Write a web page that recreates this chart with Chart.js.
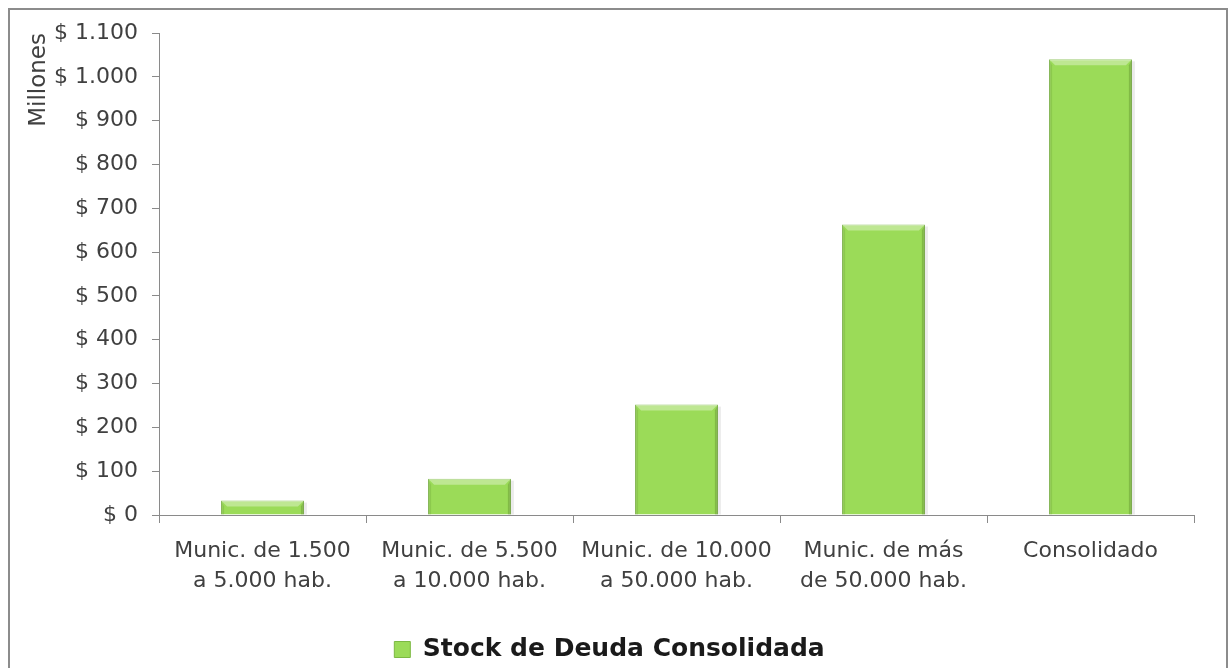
<!DOCTYPE html>
<html>
<head>
<meta charset="utf-8">
<script src="https://cdn.jsdelivr.net/npm/chart.js@4/dist/chart.umd.min.js"></script>
<style>
html,body{margin:0;padding:0;background:#fff;}
#wrap{position:absolute;left:0;top:0;width:1230px;height:668px;}
</style>
</head>
<body>
<div id="wrap"><canvas id="c" width="1230" height="668"></canvas></div>
<script>
const categories = [
  ["Munic. de 1.500", "a 5.000 hab."],
  ["Munic. de 5.500", "a 10.000 hab."],
  ["Munic. de 10.000", "a 50.000 hab."],
  ["Munic. de más", "de 50.000 hab."],
  "Consolidado"
];
const seriesName = "Stock de Deuda Consolidada";
const stockDeuda = [33, 83, 252, 663, 1040];
const yTickMax = 1100;
const yTickStep = 100;
const yAxisTitle = "Millones";

function fmt(v){
  return "$ " + String(v).replace(/\B(?=(\d{3})+(?!\d))/g, ".");
}

const frame = {
  id: 'frame',
  afterDraw(chart){
    const ctx = chart.ctx;
    ctx.save();
    ctx.strokeStyle = '#8c8c8c';
    ctx.lineWidth = 2;
    ctx.strokeRect(9, 9, 1218, 700);
    ctx.restore();
  }
};

const bevel = {
  id: 'bevel',
  afterDatasetsDraw(chart){
    const ctx = chart.ctx;
    const meta = chart.getDatasetMeta(0);
    ctx.save();
    meta.data.forEach(bar => {
      const l = bar.x - bar.width/2, r = bar.x + bar.width/2;
      const t = bar.y, b = bar.base;
      const h = Math.min(6, (b - t)/2);
      ctx.fillStyle = 'rgba(255,255,255,0.35)';
      ctx.beginPath();
      ctx.moveTo(l, t); ctx.lineTo(r, t); ctx.lineTo(r - h, t + h); ctx.lineTo(l + h, t + h); ctx.closePath();
      ctx.fill();
      ctx.fillStyle = 'rgba(60,100,20,0.28)';
      ctx.beginPath();
      ctx.moveTo(r, t); ctx.lineTo(r, b); ctx.lineTo(r - 3, b); ctx.lineTo(r - 3, t + h); ctx.closePath();
      ctx.fill();
      ctx.fillStyle = 'rgba(60,100,20,0.15)';
      ctx.beginPath();
      ctx.moveTo(l, t); ctx.lineTo(l, b); ctx.lineTo(l + 3, b); ctx.lineTo(l + 3, t + h); ctx.closePath();
      ctx.fill();
      ctx.fillStyle = 'rgba(0,0,0,0.08)';
      ctx.fillRect(r, t + 2, 3, b - t - 2);
    });
    ctx.restore();
  }
};

new Chart(document.getElementById('c'), {
  type: 'bar',
  data: {
    labels: categories,
    datasets: [{
      label: seriesName,
      data: stockDeuda,
      backgroundColor: '#9BDB58',
      borderColor: '#7CB843',
      borderWidth: 1,
      barPercentage: 0.4,
      categoryPercentage: 1
    }]
  },
  options: {
    responsive: false,
    animation: false,
    layout: { padding: { left: 25, right: 36, top: 33, bottom: -4 } },
    plugins: {
      legend: {
        position: 'bottom',
        labels: {
          font: { family: 'DejaVu Sans', size: 25, weight: 'bold', lineHeight: 1.0 },
          color: '#1a1a1a',
          boxWidth: 16, boxHeight: 16,
          padding: 4
        }
      },
      tooltip: { enabled: false }
    },
    scales: {
      x: {
        afterFit(s){ s.height = 118; },
        grid: { display: true, drawOnChartArea: false, offset: true, tickLength: 8, color: '#8a8a8a' },
        border: { color: '#8a8a8a', width: 1 },
        ticks: {
          font: { family: 'DejaVu Sans', size: 22, lineHeight: 1.36 },
          color: '#404040',
          padding: 13,
          maxRotation: 0
        }
      },
      y: {
        min: 0, max: yTickMax,
        afterFit(s){ s.width = 134; },
        grid: { display: true, drawOnChartArea: false, tickLength: 7, color: '#8a8a8a' },
        border: { color: '#8a8a8a', width: 1 },
        ticks: {
          stepSize: yTickStep,
          font: { family: 'DejaVu Sans', size: 22 },
          color: '#404040',
          padding: 14,
          callback: v => fmt(v)
        },
        title: {
          display: true,
          text: yAxisTitle,
          align: 'end',
          font: { family: 'DejaVu Sans', size: 23 },
          color: '#404040',
          padding: { top: 0, bottom: 0 }
        }
      }
    }
  },
  plugins: [frame, bevel]
});
</script>
</body>
</html>
